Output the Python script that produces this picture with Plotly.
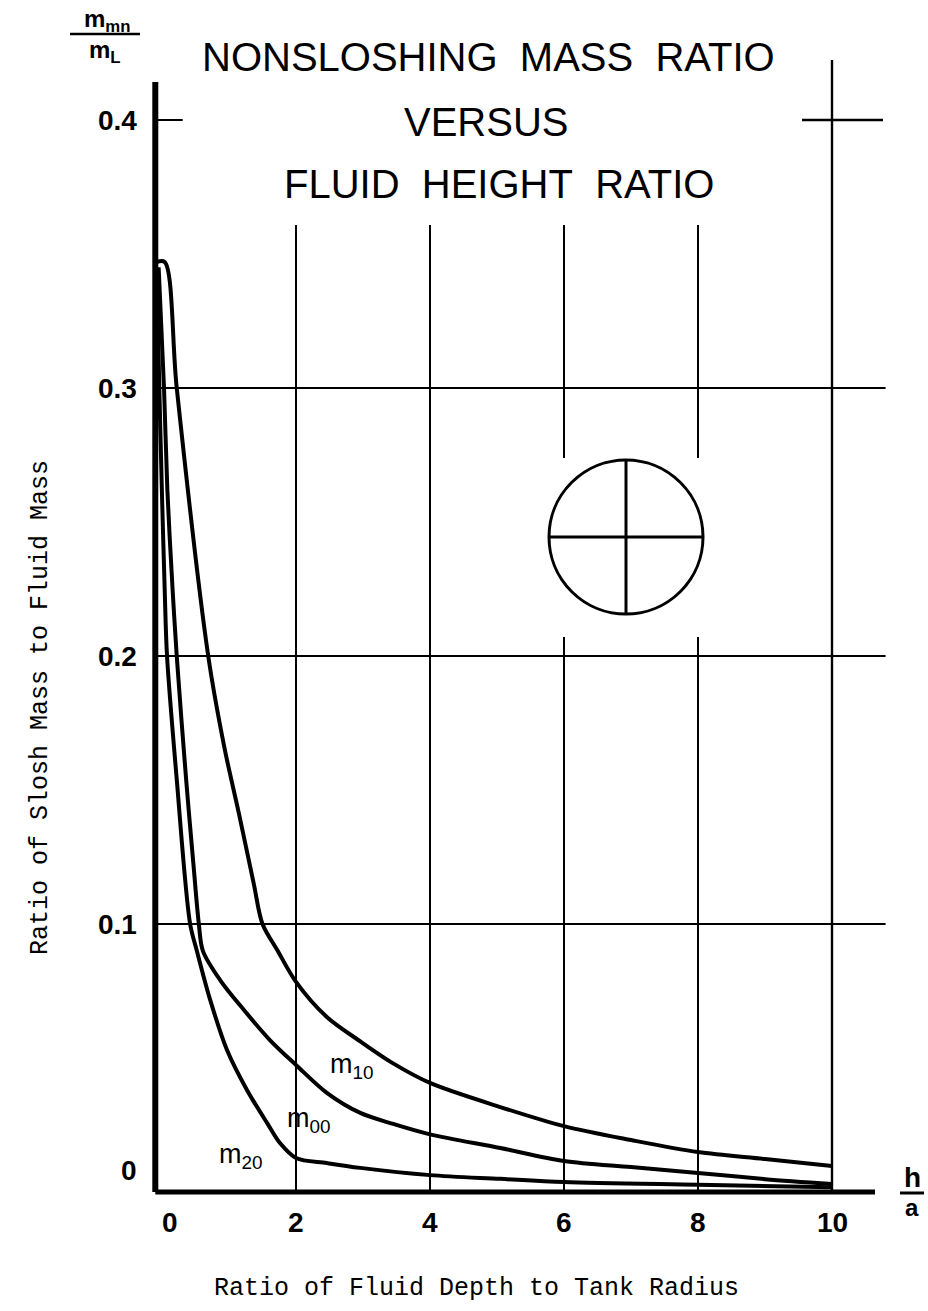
import plotly.graph_objects as go

# ---------------- data ----------------
m10_x = [-0.08, 0.04, 0.22, 0.69, 0.93, 1.15, 1.37, 1.50, 1.72, 2.0, 2.46, 2.96, 3.45, 4.0, 5.05, 6.0, 7.0, 8.0, 9.0, 10.0]
m10_y = [0.347, 0.347, 0.300, 0.200, 0.166, 0.141, 0.115, 0.100, 0.0903, 0.0784, 0.0653, 0.0562, 0.048, 0.0407, 0.0317, 0.0246, 0.0194, 0.0149, 0.0123, 0.0097]

m00_x = [-0.05, 0.03, 0.08, 0.16, 0.22, 0.36, 0.47, 0.55, 0.61, 0.87, 1.22, 1.61, 2.0, 2.46, 2.96, 3.45, 4.0, 5.05, 6.0, 7.0, 8.0, 9.0, 10.0]
m00_y = [0.345, 0.300, 0.262, 0.224, 0.200, 0.154, 0.122, 0.100, 0.090, 0.079, 0.068, 0.0567, 0.0474, 0.037, 0.0295, 0.0254, 0.0215, 0.0164, 0.0116, 0.0093, 0.0071, 0.0048, 0.0030]

m20_x = [-0.08, -0.04, 0.0, 0.04, 0.075, 0.22, 0.42, 0.52, 0.72, 0.97, 1.27, 1.57, 1.76, 2.0, 2.46, 2.96, 4.0, 5.05, 6.0, 8.0, 10.0]
m20_y = [0.345, 0.300, 0.260, 0.225, 0.200, 0.154, 0.100, 0.090, 0.0716, 0.053, 0.038, 0.0257, 0.0183, 0.0127, 0.0108, 0.009, 0.0063, 0.0049, 0.0037, 0.0027, 0.0018]

curve_labels = ["m<sub>10</sub>", "m<sub>00</sub>", "m<sub>20</sub>"]

x_ticks = [0, 2, 4, 6, 8, 10]
x_tick_labels = ["0", "2", "4", "6", "8", "10"]
y_ticks = [0, 0.1, 0.2, 0.3, 0.4]
y_tick_labels = ["0", "0.1", "0.2", "0.3", "0.4"]

title_lines = ["NONSLOSHING\u00a0 MASS\u00a0 RATIO", "VERSUS", "FLUID\u00a0 HEIGHT\u00a0 RATIO"]
x_title = "Ratio of Fluid Depth to Tank Radius"
y_title = "Ratio of Slosh Mass to Fluid Mass"

# ---------------- page geometry ----------------
W, H = 928, 1311
X0_PX, X_SCALE = 162.0, 67.0      # pixel of x=0, pixels per unit
Y0_PX, Y_SCALE = 1192.0, 2680.0   # pixel of y=0, pixels per unit


def dx(px):
    return (px - X0_PX) / X_SCALE


def dy(py):
    return (Y0_PX - py) / Y_SCALE


fig = go.Figure()
for xs, ys in [(m10_x, m10_y), (m00_x, m00_y), (m20_x, m20_y)]:
    fig.add_trace(go.Scatter(x=xs, y=ys, mode="lines",
                             line=dict(color="black", width=4, shape="spline", smoothing=0.9),
                             hoverinfo="skip", showlegend=False))

shapes = []


def seg(x0, y0, x1, y1, w=2.0):
    shapes.append(dict(type="line", xref="x", yref="y", x0=x0, y0=y0, x1=x1, y1=y1,
                       line=dict(color="black", width=w)))


AX = -0.1
# horizontal grid
for yv in y_ticks[1:4]:
    seg(AX, yv, 10.8, yv)
seg(AX, 0.4, 0.31, 0.4)
seg(dx(802), 0.4, dx(883), 0.4, 2.6)
# vertical grid
top_v = dy(225)
for xv in x_ticks[1:3]:
    seg(xv, 0, xv, top_v)
for xv in x_ticks[3:5]:
    seg(xv, 0, xv, dy(637))
    seg(xv, dy(458), xv, top_v)
seg(x_ticks[5], 0, x_ticks[5], dy(60), 2.4)
# axes
seg(AX, 0, AX, dy(82), 6)
seg(AX, 0, dx(875), 0, 5)

# tank symbol
cx, cy, r = 626, 537, 77
shapes.append(dict(type="circle", xref="x", yref="y",
                   x0=dx(cx - r), x1=dx(cx + r), y0=dy(cy + r), y1=dy(cy - r),
                   line=dict(color="black", width=3)))
seg(dx(cx - r), dy(cy), dx(cx + r), dy(cy), 3)
seg(dx(cx), dy(cy - r), dx(cx), dy(cy + r), 3)

# fraction bars
seg(dx(70), dy(34), dx(140), dy(34), 2.5)
seg(dx(900), dy(1193), dx(924), dy(1193), 3)

ann = []


def txt(text, px, py, size, family="Liberation Sans", xanchor="center", angle=0, bold=False):
    ann.append(dict(text=("<b>%s</b>" % text) if bold else text, x=dx(px), y=dy(py),
                    xref="x", yref="y", showarrow=False, xanchor=xanchor, yanchor="middle",
                    textangle=angle, font=dict(family=family, size=size, color="black")))


# titles
txt(title_lines[0], 488, 57, 40)
txt(title_lines[1], 486, 122, 40)
txt(title_lines[2], 499, 184, 40)

# tick labels
for v, lab in zip(x_ticks, x_tick_labels):
    ann.append(dict(text="<b>%s</b>" % lab, x=v, y=dy(1222), xref="x", yref="y",
                    showarrow=False, xshift=8 if v == 0 else 0,
                    font=dict(family="Liberation Sans", size=28, color="black")))
for v, lab in zip(y_ticks, y_tick_labels):
    ann.append(dict(text="<b>%s</b>" % lab, x=dx(139), y=v, xref="x", yref="y",
                    showarrow=False, xanchor="right", yshift=22 if v == 0 else 0,
                    font=dict(family="Liberation Sans", size=28, color="black")))

# curve labels
txt(curve_labels[0], 352, 1066, 27)
txt(curve_labels[1], 309, 1120, 27)
txt(curve_labels[2], 241, 1156, 27)

# corner labels
txt("m<sub>mn</sub>", 107, 20, 24, bold=True)
txt("m<sub>L</sub>", 105, 51, 24, bold=True)
txt("h", 912, 1177, 28, bold=True)
txt("a", 912, 1207, 24, bold=True)

# axis titles
txt(x_title, 476, 1288, 25, family="Liberation Mono")
txt(y_title, 40, 708, 25, family="Liberation Mono", angle=-90)

fig.update_layout(
    width=W, height=H, margin=dict(l=0, r=0, t=0, b=0),
    paper_bgcolor="white", plot_bgcolor="white",
    xaxis=dict(range=[dx(0), dx(W)], visible=False, fixedrange=True),
    yaxis=dict(range=[dy(H), dy(0)], visible=False, fixedrange=True),
    shapes=shapes, annotations=ann, showlegend=False,
)

fig.write_html("out.html")
